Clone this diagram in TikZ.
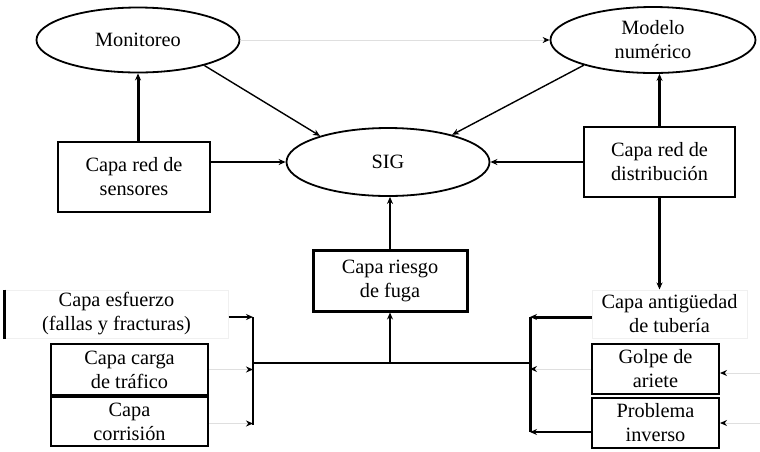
\documentclass[tikz,border=0pt]{standalone}
\usepackage{fontspec}
\setmainfont{Liberation Serif}
\usetikzlibrary{arrows.meta,shapes.geometric}
\begin{document}
\begin{tikzpicture}[x=1pt,y=-1pt,
  every node/.style={font=\fontsize{20.3}{24}\selectfont, align=center, inner sep=0pt},
  ell/.style={draw, ellipse, line width=1.8pt},
  box/.style={draw, rectangle, line width=2pt},
  faint/.style={draw=gray!12, rectangle, line width=1pt},
  tip/.style={-{Stealth[length=7pt,width=6pt,color=black]}},
  thin/.style={tip, line width=1.4pt},
  thk/.style={tip, line width=3pt},
  light/.style={tip, draw=gray!25, line width=1pt}]
\useasboundingbox (0,0) rectangle (760,451);
\fill[white] (0,0) rectangle (760,451);
% ellipses
\node[ell, minimum width=203pt, minimum height=65pt] (mon) at (138,40) {Monitoreo};
\node[ell, minimum width=205pt, minimum height=66pt] (mod) at (653,40) {Modelo\\numérico};
\node[ell, minimum width=203pt, minimum height=68pt] (sig) at (388,162) {SIG};
% boxes
\node[box, minimum width=152pt, minimum height=70pt] (sens) at (134,177) {Capa red de\\sensores};
\node[box, minimum width=151pt, minimum height=70pt] (dist) at (659.5,162) {Capa red de\\distribución};
\node[box, line width=3pt, minimum width=154pt, minimum height=61pt] (fuga) at (390,280.5) {Capa riesgo\\de fuga};
\node[faint, minimum width=223pt, minimum height=48pt] (esf) at (116.5,314) {Capa esfuerzo\\(fallas y fracturas)};
\draw[line width=2.5pt] (esf.north west) -- (esf.south west);
\node[box, minimum width=157pt, minimum height=51pt] (carga) at (129.5,369.5) {Capa carga\\de tráfico};
\node[box, minimum width=157pt, minimum height=49pt] (corr) at (129.5,421.5) {Capa\\corrisión};
\node[faint, minimum width=155pt, minimum height=48pt] (ant) at (669.5,314) {Capa antigüedad\\de tubería};
\node[box, minimum width=127pt, minimum height=50pt] (golpe) at (655.5,369) {Golpe de\\ariete};
\node[box, minimum width=127pt, minimum height=50pt] (prob) at (655.5,423) {Problema\\inverso};
% helper coordinates
\coordinate (lbtop) at (253,317);
\coordinate (lbbot) at (253,425);
\coordinate (lbmid) at (253,363);
\coordinate (rbtop) at (530,317);
\coordinate (rbbot) at (530,432);
\coordinate (rbmid) at (530,363);
\coordinate (busmid) at (390,363);
\coordinate (in1) at (760,373);
\coordinate (in2) at (760,423);
% top connectors
\draw[light] (mon.east) -- (mod.west);
\draw[thin] (mon.-21) -- (sig.159);
\draw[thin] (mod.200) -- (sig.23);
\draw[thk] (mon.south |- sens.north) -- (mon.south);
\draw[thk] (dist.north) -- (dist.north |- mod.south);
\draw[thin] (sens.east |- sig.west) -- (sig.west);
\draw[thin] (dist.west) -- (sig.east);
\draw[thin] (fuga.north) -- (fuga.north |- sig.south);
\draw[thk] (dist.south) -- (dist.south |- ant.north);
% left bracket
\draw[line width=2pt] (lbtop) -- (lbbot);
\draw[line width=2pt] (lbmid) -- (rbmid);
\draw[thin] ([yshift=-3pt]esf.east) -- ([yshift=-3pt]esf.east -| lbtop);
\draw[light] (carga.east) -- (carga.east -| lbtop);
\draw[light] ([yshift=-2pt]corr.east) -- ([yshift=-2pt]corr.east -| lbtop);
\draw[thin] (busmid) -- (fuga.south);
% right bracket
\draw[line width=3pt] (rbtop) -- (rbbot);
\draw[thk] ([yshift=-3pt]ant.west) -- ([yshift=-3pt]ant.west -| rbtop);
\draw[light] (golpe.west) -- (golpe.west -| rbtop);
\draw[thin] ([yshift=-9pt]prob.west) -- ([yshift=-9pt]prob.west -| rbtop);
\draw[light] (in1) -- (in1 -| golpe.east);
\draw[light] (in2) -- (in2 -| prob.east);
\end{tikzpicture}
\end{document}
